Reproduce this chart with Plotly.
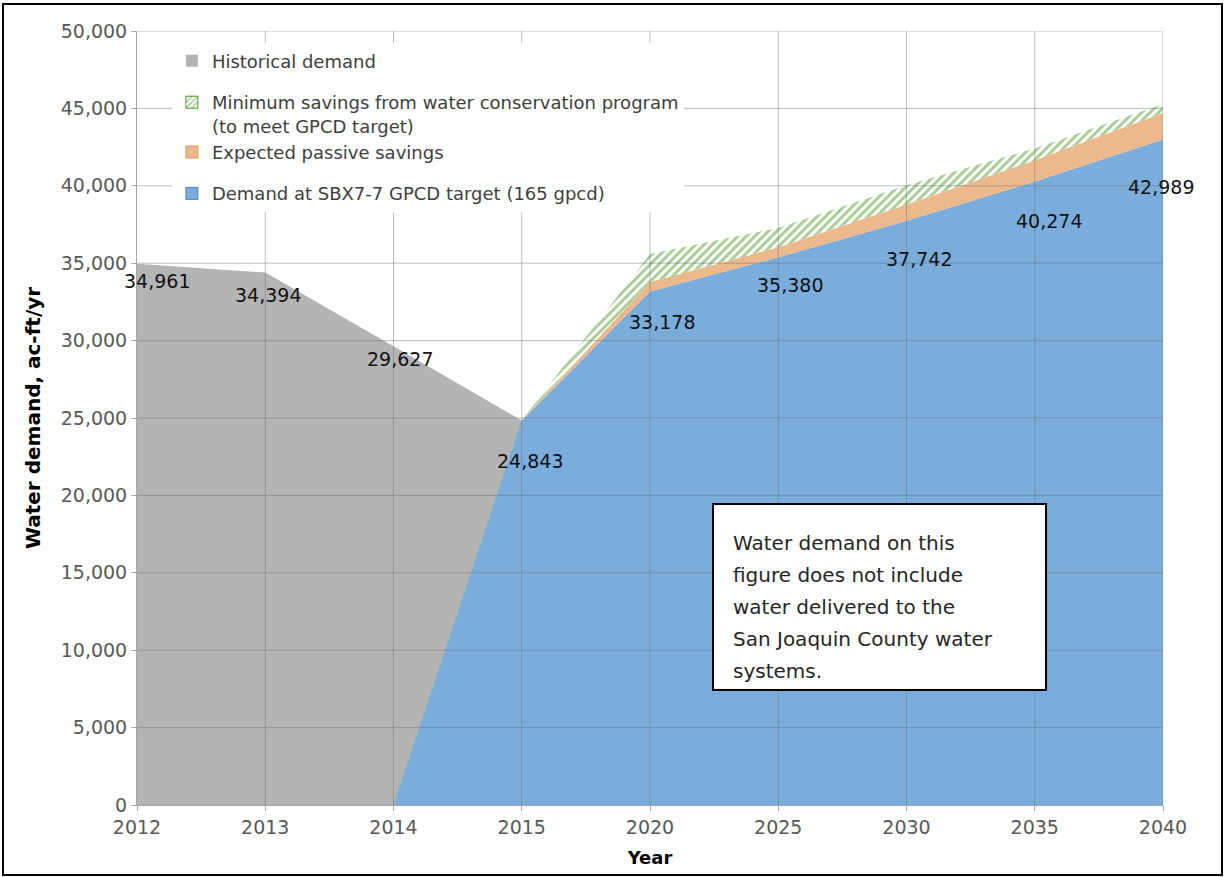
import plotly.graph_objects as go

# ---- data ----
categories = ["2012", "2013", "2014", "2015", "2020", "2025", "2030", "2035", "2040"]

hist_years = ["2012", "2013", "2014", "2015"]
hist_demand = [34961, 34394, 29627, 24843]

proj_years = ["2014", "2015", "2020", "2025", "2030", "2035", "2040"]
target_demand = [0, 24843, 33178, 35380, 37742, 40274, 42989]
passive_savings = [0, 0, 610, 650, 1050, 1380, 1710]
program_savings = [0, 0, 1800, 1250, 1250, 760, 580]

label_years = ["2012", "2013", "2014", "2015", "2020", "2025", "2030", "2035", "2040"]
label_values = [34961, 34394, 29627, 24843, 33178, 35380, 37742, 40274, 42989]

y_ticks = [0, 5000, 10000, 15000, 20000, 25000, 30000, 35000, 40000, 45000, 50000]

note_lines = [
    "Water demand on this",
    "figure does not include",
    "water delivered to the",
    "San Joaquin County water",
    "systems.",
]

legend_names = [
    "Historical demand",
    "Minimum savings from water conservation program<br>(to meet GPCD target)",
    "Expected passive savings",
    "Demand at SBX7-7 GPCD target (165 gpcd)",
]

# ---- style ----
GREY = "#B4B4B4"
BLUE = "#7AACDC"
ORANGE = "#EBB98C"
GREEN = "#4F9A2E"
FONT = "DejaVu Sans"

# label offsets (px) for data labels
label_dx = [20, 3, 6, 8, 12, 12, 12, 14, -2]
label_dy = [-17, -22, -13, -41, -31, -28, -38, -39, -47]


def cat_pos(c):
    return categories.index(c)


fig = go.Figure()

fig.add_trace(go.Scatter(
    x=hist_years, y=hist_demand, mode="none", fill="tozeroy",
    fillcolor=GREY, showlegend=False, hoverinfo="skip"))

fig.add_trace(go.Scatter(
    x=proj_years, y=target_demand, mode="none", stackgroup="proj",
    fillcolor=BLUE, showlegend=False, hoverinfo="skip"))
fig.add_trace(go.Scatter(
    x=proj_years, y=passive_savings, mode="none", stackgroup="proj",
    fillcolor=ORANGE, showlegend=False, hoverinfo="skip"))
fig.add_trace(go.Scatter(
    x=proj_years, y=program_savings, mode="none", stackgroup="proj",
    fillcolor="white",
    fillpattern=dict(shape="/", fgcolor=GREEN, bgcolor="white", size=6, solidity=0.5),
    showlegend=False, hoverinfo="skip"))

# legend entries (square swatches)
legend_styles = [
    dict(color=GREY, line=dict(color=GREY, width=0)),
    dict(color="white", line=dict(color=GREEN, width=1),
         pattern=dict(shape="/", fgcolor=GREEN, bgcolor="white", size=5, solidity=0.4)),
    dict(color=ORANGE, line=dict(color="#D9955A", width=1)),
    dict(color=BLUE, line=dict(color="#4F86C0", width=1)),
]
legend_groups = ["a", "b", "b", "c"]
for i, (name, st) in enumerate(zip(legend_names, legend_styles)):
    fig.add_trace(go.Bar(
        x=[categories[0]], y=[None], name=name, marker=st,
        legendgroup=legend_groups[i], legendrank=i + 1, showlegend=True,
        hoverinfo="skip"))

# data labels
annotations = []
for yr, v, dx, dy in zip(label_years, label_values, label_dx, label_dy):
    annotations.append(dict(
        x=cat_pos(yr), y=v, xref="x", yref="y", text=f"{v:,}", showarrow=False,
        xshift=dx, yshift=dy, font=dict(family=FONT, size=19, color="#111111")))

# note box text lines
for i, line in enumerate(note_lines):
    annotations.append(dict(
        x=0.5789, y=0.3385 - i * 0.0413, xref="paper", yref="paper",
        xanchor="left", yanchor="middle", text=line, showarrow=False,
        font=dict(family=FONT, size=20, color="#262626")))

# gridlines drawn above the areas
grid_color = "rgba(110,110,110,0.45)"
shapes = []
for t in y_ticks[1:]:
    shapes.append(dict(type="line", xref="paper", yref="y", x0=0, x1=1, y0=t, y1=t,
                       line=dict(color=grid_color, width=1), layer="above"))
for c in categories[1:]:
    shapes.append(dict(type="line", xref="x", yref="paper", x0=cat_pos(c), x1=cat_pos(c), y0=0, y1=1,
                       line=dict(color=grid_color, width=1), layer="above"))

# note box
shapes.append(dict(type="rect", xref="paper", yref="paper",
                   x0=0.5614, x1=0.8860, y0=0.1486, y1=0.3889,
                   fillcolor="white", line=dict(color="black", width=2), layer="above"))
# outer frame
shapes.append(dict(type="rect", xref="paper", yref="paper",
                   x0=(3 - 137) / 1026, x1=(1222 - 137) / 1026,
                   y0=(805 - 875) / 774, y1=(805 - 4) / 774,
                   fillcolor="rgba(0,0,0,0)", line=dict(color="black", width=2), layer="above"))

fig.update_layout(
    width=1225, height=877,
    margin=dict(l=137, r=62, t=31, b=72, autoexpand=False),
    paper_bgcolor="white", plot_bgcolor="white",
    font=dict(family=FONT, color="#595959"),
    barmode="overlay",
    showlegend=True,
    legend=dict(
        x=0.034, y=0.985, xanchor="left", yanchor="top",
        bgcolor="white", borderwidth=0,
        font=dict(family=FONT, size=18, color="#404040"),
        traceorder="grouped", tracegroupgap=15, valign="top",
        itemclick=False, itemdoubleclick=False),
    xaxis=dict(
        type="category", categoryorder="array", categoryarray=categories,
        range=[0, len(categories) - 1],
        showgrid=False, showline=True, linecolor="#A6A6A6", linewidth=1,
        ticks="outside", ticklen=5, tickcolor="#A6A6A6",
        tickfont=dict(family=FONT, size=19, color="#595959"),
        title=dict(text="<b>Year</b>", font=dict(family=FONT, size=18, color="black"), standoff=14),
        zeroline=False, fixedrange=True),
    yaxis=dict(
        range=[0, 50000], tickvals=y_ticks, tickformat=",d",
        showgrid=False, showline=True, linecolor="#A6A6A6", linewidth=1,
        ticks="outside", ticklen=5, tickcolor="#A6A6A6",
        tickfont=dict(family=FONT, size=19, color="#595959"),
        title=dict(text="<b>Water demand, ac-ft/yr</b>", font=dict(family=FONT, size=20, color="black"), standoff=14),
        zeroline=False, fixedrange=True),
    annotations=annotations,
    shapes=shapes,
)

fig.write_html("out.html", config={"displayModeBar": False},
               post_script="document.body.style.margin='0';")
